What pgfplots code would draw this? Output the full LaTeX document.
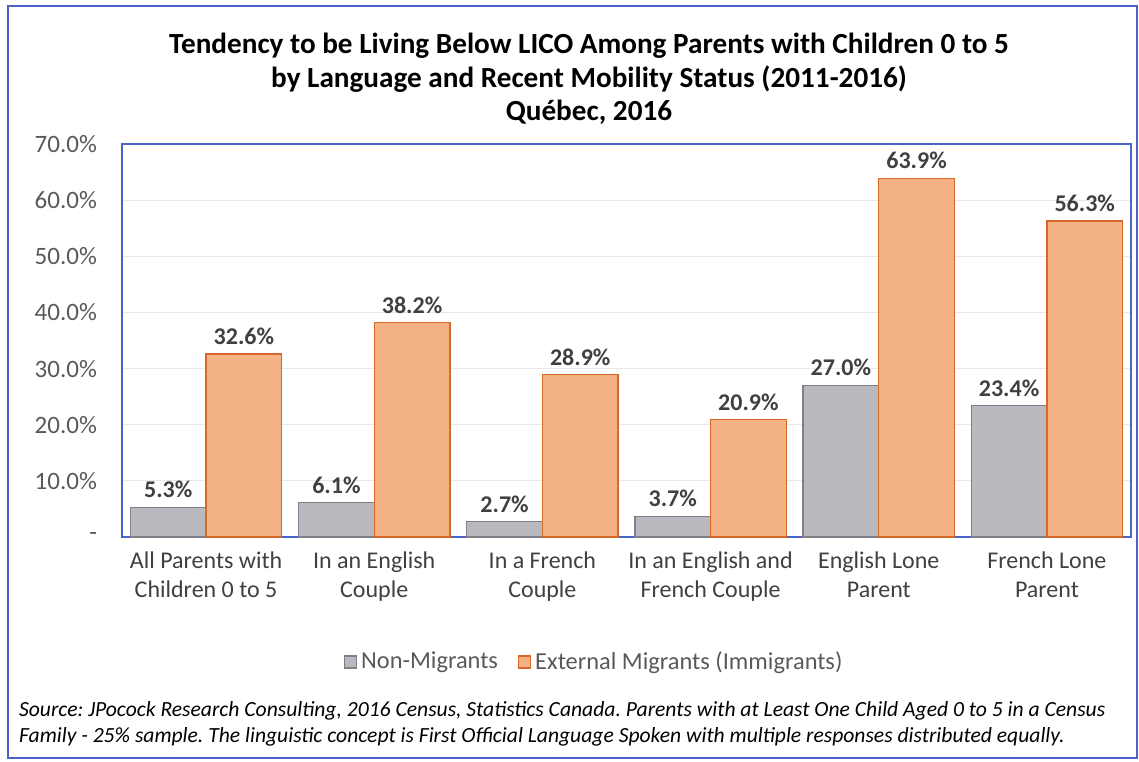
\documentclass[border=0pt]{standalone}
\usepackage{fontspec}
\setmainfont{Carlito}
\usepackage{pgfplots}
\pgfplotsset{compat=1.18}

\definecolor{frameblue}{HTML}{4A63C8}
\definecolor{nonfill}{HTML}{B9B9BF}
\definecolor{nondraw}{HTML}{7F7F88}
\definecolor{immfill}{HTML}{F4B183}
\definecolor{immdraw}{HTML}{D6682A}
\definecolor{txtgray}{HTML}{595959}
\definecolor{lblgray}{HTML}{404040}

\begin{document}
\frenchspacing
\begin{tikzpicture}
\path[use as bounding box] (0,0) rectangle (569.5pt,380.5pt);
\draw[frameblue, line width=0.8pt] (4pt,1.5pt) rectangle (568.5pt,377.5pt);

\node[align=center, font=\fontsize{14.6}{16.8}\selectfont\bfseries] at (294.5pt,341pt)
  {Tendency to be Living Below LICO Among Parents with Children 0 to 5\\
   by Language and Recent Mobility Status (2011-2016)\\
   Québec, 2016};

\begin{axis}[
    at={(61pt,112pt)}, anchor=south west,
    scale only axis,
    width=504.5pt, height=196.5pt,
    ybar=0pt,
    bar width=0.45,
    xmin=-0.5, xmax=5.5,
    ymin=0, ymax=70,
    xtick={0,1,2,3,4,5},
    xticklabels={{All Parents with\\Children 0 to 5},{In an English\\Couple},{In a French\\Couple},{In an English and\\French Couple},{English Lone\\Parent},{French Lone\\Parent}},
    xticklabel style={align=center, font=\fontsize{12}{14.5}\selectfont, text=lblgray, yshift=-4pt},
    ytick={0,10,20,30,40,50,60,70},
    yticklabels={-,10.0\%,20.0\%,30.0\%,40.0\%,50.0\%,60.0\%,70.0\%},
    yticklabel style={font=\fontsize{12.5}{14}\selectfont, text=txtgray, xshift=-9pt},
    /pgf/number format/assume math mode=true,
    major tick length=0pt,
    ymajorgrids=true,
    grid style={gray!18, line width=0.6pt},
    axis line style={frameblue, line width=0.8pt},
    nodes near coords={\pgfmathprintnumber[fixed,fixed zerofill,precision=1]{\pgfplotspointmeta}\%},
    nodes near coords style={font=\fontsize{12}{14}\selectfont\bfseries, text=lblgray, yshift=1pt},
    legend columns=2,
    legend style={at={(0.469,-0.318)}, anchor=center, draw=none, fill=none,
        font=\fontsize{12.2}{14}\selectfont, text=txtgray,
        /tikz/every even column/.append style={column sep=8pt}},
    legend image code/.code={\draw[#1] (0pt,-3pt) rectangle (6pt,3pt);},
]
\addplot[fill=nonfill, draw=nondraw, line width=0.6pt] coordinates {
    (0,5.3) (1,6.1) (2,2.7) (3,3.7) (4,27.0) (5,23.4)
};
\addlegendentry{Non-Migrants}
\addplot[fill=immfill, draw=immdraw, line width=0.6pt] coordinates {
    (0,32.6) (1,38.2) (2,28.9) (3,20.9) (4,63.9) (5,56.3)
};
\addlegendentry{External Migrants (Immigrants)}
\end{axis}

\node[anchor=west, align=left, font=\fontsize{10.8}{13}\selectfont\itshape, text=black] at (6pt,18.5pt)
  {Source: JPocock Research Consulting, 2016 Census, Statistics Canada. Parents with at Least One Child Aged 0 to 5 in a Census\\
   Family - 25\% sample. The linguistic concept is First Official Language Spoken with multiple responses distributed equally.};
\end{tikzpicture}
\end{document}
